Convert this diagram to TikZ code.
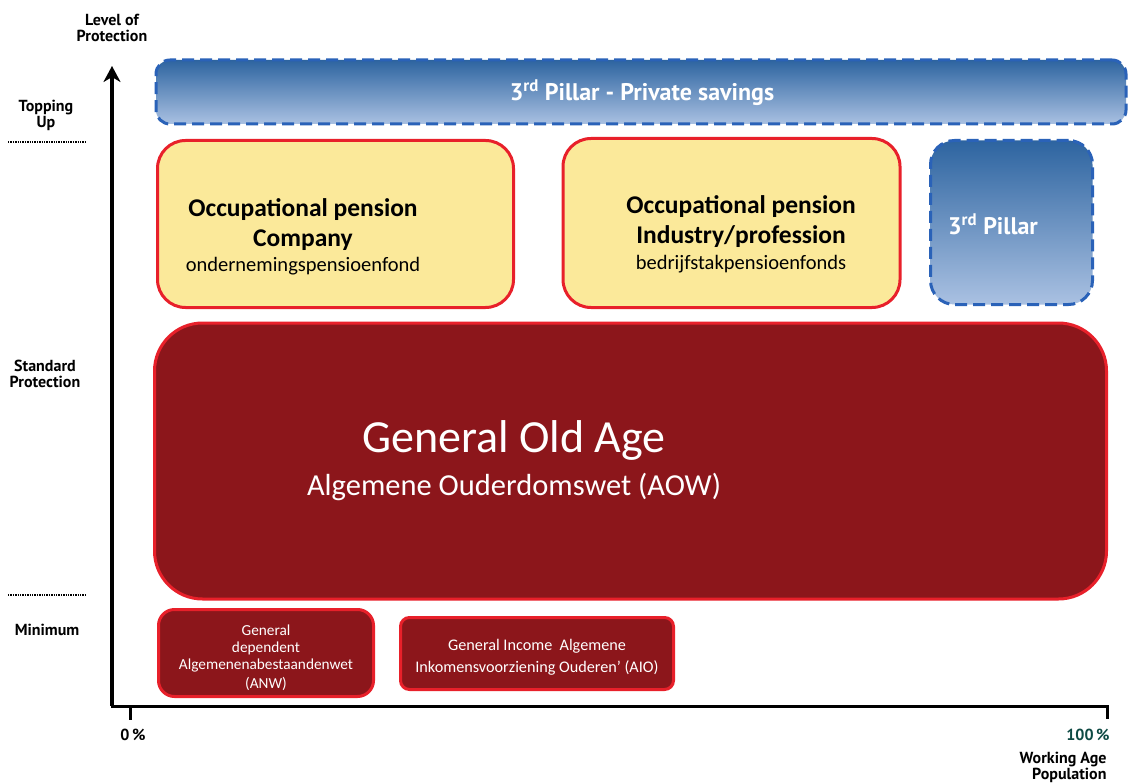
\documentclass[tikz,border=0pt]{standalone}
\usepackage{fontspec}
\setmainfont{Carlito}
\newfontfamily\lblfont{PT Sans}
\usetikzlibrary{arrows.meta}
\definecolor{pillarblue}{HTML}{2A62B8}
\definecolor{blueTop}{HTML}{2D64A0}
\definecolor{blueBot}{HTML}{AAC1E2}
\definecolor{boxred}{HTML}{E8202A}
\definecolor{darkred}{HTML}{8C161B}
\definecolor{paleyellow}{HTML}{FBE99A}
\definecolor{tealtxt}{HTML}{0E4A44}
\tikzset{
  bluebox/.style={draw=pillarblue, line width=3pt, dash pattern=on 12pt off 6pt,
    top color=blueTop, bottom color=blueBot, text=white, font=\lblfont\bfseries},
  yellowbox/.style={draw=boxred, line width=3pt, fill=paleyellow, rounded corners=28pt, align=center},
  redbox/.style={draw=boxred, line width=3pt, fill=darkred, text=white, align=center},
  axislbl/.style={font=\lblfont\bfseries\fontsize{16}{16}\selectfont, align=center},
  dotline/.style={line width=2pt, dash pattern=on 1.3pt off 1.1pt},
  headtxt/.style={font=\bfseries\fontsize{25.5}{30}\selectfont},
  subtxt/.style={font=\fontsize{20.5}{24}\selectfont},
  bluetxt/.style={text=white, font=\lblfont\bfseries\fontsize{24}{28}\selectfont},
  smallred/.style={text=white, align=center},
}
\begin{document}
\begin{tikzpicture}[x=1pt,y=-1pt]
\useasboundingbox[fill=white] (0,0) rectangle (1131,783);
% boxes
\node[bluebox, rounded corners=14pt, minimum width=970pt, minimum height=64pt] (private) at (641,92) {};
\node[bluetxt] (privatetxt) at (642,93) {3\textsuperscript{rd} Pillar - Private savings};
\node[yellowbox, minimum width=356pt, minimum height=167pt] (company) at (335.5,224) {};
\node[headtxt] (c1) at (303,210) {Occupational pension};
\node[headtxt] (c2) at (303,240) {Company};
\node[subtxt] (c3) at (303,266) {ondernemingspensioenfond};
\node[yellowbox, minimum width=337pt, minimum height=169pt] (industry) at (731.5,223) {};
\node[headtxt] (i1) at (741,207) {Occupational pension};
\node[headtxt] (i2) at (741,237) {Industry/profession};
\node[subtxt] (i3) at (741,264) {bedrijfstakpensioenfonds};
\node[bluebox, rounded corners=24pt, minimum width=162pt, minimum height=164pt] (pillar) at (1011.5,222.5) {};
\node[bluetxt] (pillartxt) at (993,224) {3\textsuperscript{rd} Pillar};
\node[redbox, rounded corners=48pt, minimum width=952pt, minimum height=276pt] (aow) at (630.5,461) {};
\node[text=white, font=\fontsize{46}{52}\selectfont] (aowtitle) at (514,440) {General Old Age};
\node[text=white, font=\fontsize{30.5}{36}\selectfont] (aowsub) at (514,487) {Algemene Ouderdomswet (AOW)};
\node[redbox, rounded corners=16pt, minimum width=215pt, minimum height=87pt] (anw) at (266,653) {};
\node[smallred, font=\fontsize{15.3}{17}\selectfont] (anwtxt) at (266,658) {General\\dependent\\Algemenenabestaandenwet\\[2pt](ANW)};
\node[redbox, rounded corners=9pt, minimum width=273pt, minimum height=72pt] (aio) at (537,653.5) {};
\node[smallred, font=\fontsize{16.2}{22}\selectfont] (aiotxt) at (537,657) {General Income\ \ Algemene\\Inkomensvoorziening Ouderen' (AIO)};
% axes
\coordinate (origin) at (112,706);
\coordinate (ytop) at (112,66);
\coordinate (xend) at (1107,706);
\coordinate (xendtick) at (1107,719);
\coordinate (zerotop) at (130,706);
\coordinate (zerobot) at (130,720);
\draw[line width=3.5pt, -{Stealth[length=16pt,width=17pt,inset=5pt]}] (origin) -- (ytop);
\draw[line width=3pt] ([xshift=-1.5pt]origin) -- (xend) -- (xendtick);
\draw[line width=3pt] (zerotop) -- (zerobot);
% labels
\node[axislbl] (lvl) at (112,28) {Level of\\Protection};
\node[axislbl] (top) at (46,115) {Topping\\Up};
\node[axislbl] (std) at (45,374) {Standard\\Protection};
\node[axislbl] (min) at (47,630) {Minimum};
\node[axislbl] (zero) at (133,735) {0\,\%};
\node[axislbl, text=tealtxt] (hund) at (1088,735) {100\,\%};
\node[axislbl, align=right, anchor=east] (wap) at (1110,767) {Working Age\\Population};
% dotted separators
\coordinate (d1a) at (8,142); \coordinate (d1b) at (87,142);
\coordinate (d2a) at (8,595); \coordinate (d2b) at (87,595);
\draw[dotline] (d1a) -- (d1b);
\draw[dotline] (d2a) -- (d2b);
\end{tikzpicture}
\end{document}
